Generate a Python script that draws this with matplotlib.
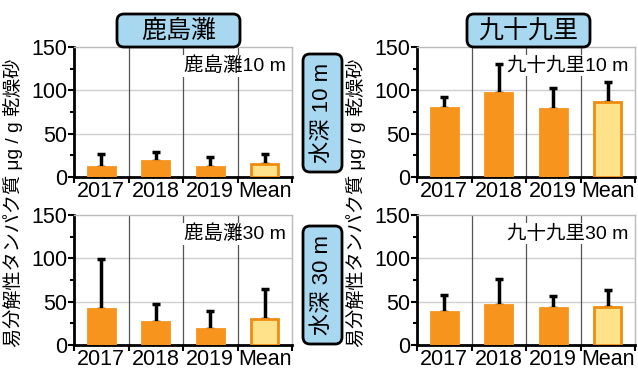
import numpy as np
import matplotlib.pyplot as plt
from matplotlib.patches import FancyBboxPatch
from matplotlib.ticker import FixedLocator

plt.rcParams['font.family'] = ['Liberation Sans', 'Noto Sans CJK JP']

# data
years = ['2017', '2018', '2019', 'Mean']
kashima_10 = [12, 19, 11, 15]
kashima_10_err = [15, 10, 12, 12]
kujukuri_10 = [80, 97, 79, 86]
kujukuri_10_err = [12, 33, 24, 24]
kashima_30 = [42, 26, 18, 30]
kashima_30_err = [57, 21, 21, 35]
kujukuri_30 = [38, 46, 43, 44]
kujukuri_30_err = [20, 30, 13, 19]

site_names = ['鹿島灘', '九十九里']
depth_names = ['水深 10 m', '水深 30 m']
panel_labels = [['鹿島灘10 m', '九十九里10 m'], ['鹿島灘30 m', '九十九里30 m']]
ylabel = '易分解性タンパク質 μg / g 乾燥砂'

bar_color = '#F7941D'
mean_color = '#FFE28A'
box_color = '#A8D8F0'

W, H = 638, 374
fig = plt.figure(figsize=(W / 100, H / 100), dpi=100)


def px_axes(x0, y0, x1, y1):
    return fig.add_axes([x0 / W, 1 - y1 / H, (x1 - x0) / W, (y1 - y0) / H])


vals = [[(kashima_10, kashima_10_err), (kujukuri_10, kujukuri_10_err)],
        [(kashima_30, kashima_30_err), (kujukuri_30, kujukuri_30_err)]]
xpos = [(74, 292), (417, 635)]
ypos = [(47, 177), (215, 345)]

for r in range(2):
    for c in range(2):
        ax = px_axes(xpos[c][0], ypos[r][0], xpos[c][1], ypos[r][1])
        v, e = vals[r][c]
        x = np.arange(len(years))
        colors = [bar_color] * 3 + [mean_color]
        edges = [bar_color] * 3 + ['#F08C10']
        ax.bar(x, v, width=0.5, color=colors, edgecolor=edges, linewidth=2, zorder=3)
        ax.errorbar(x, v, yerr=[np.zeros(len(v)), e], fmt='none', ecolor='black',
                    elinewidth=2.5, capsize=3, capthick=2.5, zorder=2)
        ax.set_xlim(-0.5, 3.5)
        ax.set_ylim(0, 150)
        ax.set_yticks([0, 50, 100, 150])
        ax.yaxis.set_minor_locator(FixedLocator([25, 75, 125]))
        ax.set_xticks(x)
        ax.set_xticklabels(years)
        ax.xaxis.set_minor_locator(FixedLocator([-0.5, 0.5, 1.5, 2.5, 3.5]))
        ax.tick_params(axis='x', which='major', length=0, labelsize=15.5, pad=3)
        ax.tick_params(axis='x', which='minor', length=4, width=1.5, direction='out')
        ax.tick_params(axis='y', which='major', length=4, width=1.5, labelsize=15.5, pad=1)
        ax.tick_params(axis='y', which='minor', length=3, width=1.5)
        for yv in [50, 100]:
            ax.axhline(yv, color='#cfcfcf', lw=1, zorder=0)
        for xv in [0.5, 1.5, 2.5]:
            ax.axvline(xv, color='#555555', lw=0.9, zorder=1)
        for s in ['left', 'bottom']:
            ax.spines[s].set_linewidth(2)
            ax.spines[s].set_color('black')
        for s in ['top', 'right']:
            ax.spines[s].set_linewidth(1)
            ax.spines[s].set_color('#bbbbbb')
        ax.text(0.97, 0.855, panel_labels[r][c], transform=ax.transAxes, ha='right',
                va='center', fontsize=14, zorder=4,
                bbox=dict(facecolor='white', edgecolor='none', pad=1))

# y labels
for xl in [13, 356]:
    fig.text(xl / W, 1 - 203 / H, ylabel, rotation=90, ha='center', va='center',
             fontsize=13.8)


def rounded_box(x0, y0, x1, y1, text, rot=0, fs=16):
    dpi = 100
    p = FancyBboxPatch((x0 / dpi, (H - y1) / dpi), (x1 - x0) / dpi, (y1 - y0) / dpi,
                       boxstyle='round,pad=0,rounding_size=0.07',
                       transform=fig.dpi_scale_trans, facecolor=box_color,
                       edgecolor='black', linewidth=2)
    fig.add_artist(p)
    fig.text((x0 + x1) / 2 / W, 1 - (y0 + y1) / 2 / H, text, rotation=rot,
             ha='center', va='center', fontsize=fs)


rounded_box(117, 14, 240, 47, site_names[0], fs=18)
rounded_box(467, 14, 590, 47, site_names[1], fs=18)
rounded_box(303, 54, 342, 172, depth_names[0], rot=90, fs=16)
rounded_box(303, 226, 342, 344, depth_names[1], rot=90, fs=16)

fig.savefig('out.png', dpi=100)
